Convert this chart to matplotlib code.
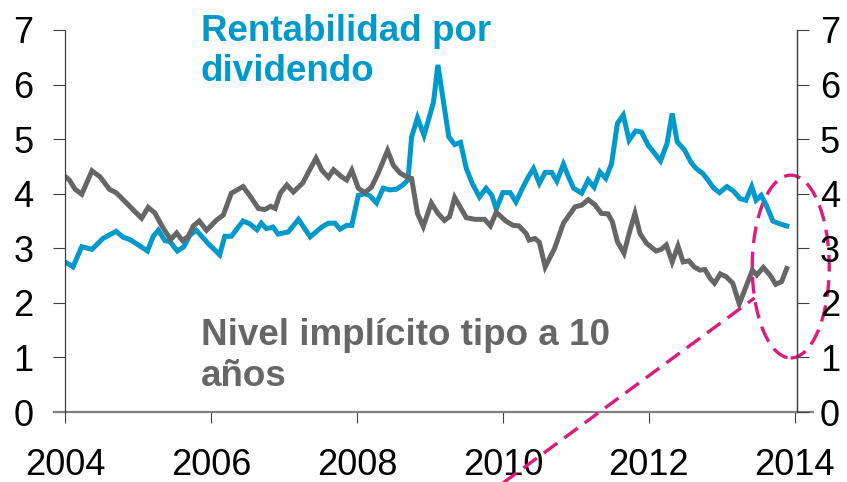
import matplotlib.pyplot as plt
from matplotlib.lines import Line2D
from matplotlib.patches import Ellipse

plt.rcParams['font.family'] = ['Liberation Sans', 'DejaVu Sans']

# Rentabilidad por dividendo (decimal year, %)
div_years = [2004.00, 2004.11, 2004.23, 2004.37, 2004.52, 2004.70, 2004.80, 2004.89,
             2005.03, 2005.13, 2005.21, 2005.28, 2005.37, 2005.44, 2005.54, 2005.63,
             2005.71, 2005.80, 2005.96, 2006.12, 2006.19, 2006.28, 2006.44, 2006.53,
             2006.63, 2006.69, 2006.76, 2006.85, 2006.92, 2007.06, 2007.20, 2007.36,
             2007.52, 2007.61, 2007.70, 2007.77, 2007.86, 2007.93, 2008.02, 2008.11,
             2008.18, 2008.27, 2008.36, 2008.45, 2008.54, 2008.63, 2008.70, 2008.75,
             2008.83, 2008.92, 2009.00, 2009.05, 2009.11, 2009.18, 2009.26, 2009.34,
             2009.42, 2009.50, 2009.58, 2009.68, 2009.77, 2009.85, 2009.91, 2010.00,
             2010.10, 2010.18, 2010.28, 2010.35, 2010.42, 2010.50, 2010.58, 2010.67,
             2010.74, 2010.83, 2010.89, 2010.97, 2011.08, 2011.17, 2011.25, 2011.33,
             2011.41, 2011.49, 2011.57, 2011.65, 2011.73, 2011.82, 2011.90, 2011.99,
             2012.08, 2012.16, 2012.25, 2012.32, 2012.39, 2012.49, 2012.58, 2012.65,
             2012.74, 2012.81, 2012.89, 2012.97, 2013.07, 2013.16, 2013.25, 2013.33,
             2013.41, 2013.47, 2013.54, 2013.61, 2013.70, 2013.79, 2013.89]
div_values = [2.75, 2.66, 3.03, 2.98, 3.18, 3.31, 3.20, 3.16,
              3.04, 2.95, 3.22, 3.33, 3.14, 3.12, 2.95, 3.03,
              3.24, 3.33, 3.09, 2.88, 3.22, 3.22, 3.50, 3.45,
              3.34, 3.46, 3.36, 3.39, 3.26, 3.30, 3.53, 3.21,
              3.39, 3.46, 3.46, 3.35, 3.42, 3.42, 3.97, 4.00,
              3.96, 3.83, 4.10, 4.07, 4.08, 4.16, 4.25, 5.04,
              5.39, 5.07, 5.44, 5.68, 6.36, 5.74, 5.04, 4.90,
              4.94, 4.46, 4.19, 3.94, 4.10, 3.97, 3.72, 4.02,
              4.02, 3.85, 4.13, 4.31, 4.46, 4.19, 4.39, 4.39,
              4.23, 4.54, 4.34, 4.10, 4.01, 4.25, 4.12, 4.40,
              4.28, 4.55, 5.29, 5.44, 4.98, 5.15, 5.13, 4.89,
              4.74, 4.60, 4.92, 5.47, 4.95, 4.80, 4.57, 4.46,
              4.37, 4.25, 4.10, 4.02, 4.13, 4.05, 3.91, 3.88,
              4.13, 3.88, 3.97, 3.79, 3.50, 3.45, 3.41]

# Nivel implicito tipo a 10 anos (decimal year, %)
bond_years = [2004.00, 2004.06, 2004.14, 2004.23, 2004.37, 2004.48, 2004.61, 2004.70,
              2004.85, 2004.96, 2005.05, 2005.14, 2005.23, 2005.35, 2005.45, 2005.53,
              2005.61, 2005.69, 2005.76, 2005.84, 2005.94, 2006.08, 2006.17, 2006.28,
              2006.44, 2006.53, 2006.65, 2006.74, 2006.82, 2006.88, 2006.95, 2007.04,
              2007.13, 2007.26, 2007.35, 2007.44, 2007.52, 2007.61, 2007.68, 2007.79,
              2007.86, 2007.93, 2008.02, 2008.11, 2008.20, 2008.29, 2008.42, 2008.50,
              2008.59, 2008.68, 2008.75, 2008.83, 2008.91, 2009.02, 2009.11, 2009.20,
              2009.27, 2009.34, 2009.50, 2009.62, 2009.75, 2009.83, 2009.91, 2010.04,
              2010.14, 2010.22, 2010.32, 2010.36, 2010.44, 2010.50, 2010.58, 2010.71,
              2010.83, 2010.99, 2011.08, 2011.17, 2011.26, 2011.35, 2011.44, 2011.50,
              2011.57, 2011.66, 2011.73, 2011.81, 2011.88, 2011.97, 2012.10, 2012.17,
              2012.24, 2012.32, 2012.40, 2012.47, 2012.55, 2012.62, 2012.70, 2012.77,
              2012.84, 2012.90, 2012.98, 2013.06, 2013.15, 2013.24, 2013.33, 2013.42,
              2013.48, 2013.57, 2013.66, 2013.74, 2013.82, 2013.89]
bond_values = [4.32, 4.25, 4.08, 3.99, 4.42, 4.31, 4.08, 4.02,
               3.82, 3.67, 3.55, 3.75, 3.65, 3.36, 3.16, 3.28,
               3.14, 3.22, 3.41, 3.50, 3.33, 3.52, 3.61, 4.01,
               4.13, 3.97, 3.73, 3.71, 3.77, 3.73, 4.01, 4.16,
               4.03, 4.20, 4.43, 4.65, 4.43, 4.30, 4.44, 4.31,
               4.25, 4.43, 4.10, 4.02, 4.12, 4.37, 4.79, 4.52,
               4.38, 4.31, 4.28, 3.64, 3.40, 3.83, 3.64, 3.51,
               3.58, 3.93, 3.56, 3.53, 3.53, 3.41, 3.66, 3.50,
               3.42, 3.41, 3.27, 3.15, 3.18, 3.11, 2.66, 3.00,
               3.46, 3.76, 3.79, 3.89, 3.80, 3.64, 3.63, 3.49,
               3.12, 2.91, 3.27, 3.64, 3.27, 3.09, 2.95, 2.98,
               3.06, 2.75, 3.04, 2.75, 2.77, 2.66, 2.60, 2.61,
               2.45, 2.36, 2.53, 2.48, 2.36, 1.98, 2.29, 2.60,
               2.51, 2.65, 2.51, 2.34, 2.39, 2.63]

x_ticks = [2004, 2006, 2008, 2010, 2012, 2014]
y_ticks = [0, 1, 2, 3, 4, 5, 6, 7]

BLUE = "#0099cc"
GREY = "#666666"
PINK = "#e0197d"
AXIS = "#404040"

fig = plt.figure(figsize=(8.47, 4.82), dpi=100)
ax = fig.add_axes([0.0767, 0.1452, 0.8642, 0.7926])

ax.plot(div_years, div_values, color=BLUE, lw=3.6, solid_joinstyle="miter")
ax.plot(bond_years, bond_values, color=GREY, lw=3.6, solid_joinstyle="miter")

ax.set_xlim(2004, 2014.03)
ax.set_ylim(0, 7)
ax.set_xticks(x_ticks)
ax.set_yticks(y_ticks)
ax.tick_params(axis="x", direction="out", length=8, width=0.8, color=AXIS,
               labelsize=26, pad=18)
ax.tick_params(axis="y", direction="out", length=8.5, width=0.8, color=AXIS,
               labelsize=26, pad=14)

for side in ["top", "bottom"]:
    ax.spines[side].set_visible(False)
for side in ["left", "right"]:
    ax.spines[side].set_color(AXIS)
    ax.spines[side].set_linewidth(0.9)

# long horizontal base line running past both spines
ax.add_line(Line2D([-0.015, 1.022], [0, 0], transform=ax.transAxes,
                   color="#808080", lw=1.6, clip_on=False))

ax2 = ax.twinx()
ax2.set_ylim(0, 7)
ax2.set_yticks(y_ticks)
ax2.tick_params(axis="y", direction="out", length=8.5, width=0.8, color=AXIS,
                labelsize=26, pad=8)
for side in ["top", "bottom", "left"]:
    ax2.spines[side].set_visible(False)
ax2.spines["right"].set_color(AXIS)
ax2.spines["right"].set_linewidth(0.9)

fig.text(0.237, 0.971, "Rentabilidad por\ndividendo", color=BLUE, fontsize=26.5,
         fontweight="bold", ha="left", va="top")
fig.text(0.237, 0.340, "Nivel implícito tipo a 10\naños", color=GREY, fontsize=26.5,
         fontweight="bold", ha="left", va="top")

# dashed highlight
ax.add_patch(Ellipse((2013.945, 2.665), 1.055, 3.35, fill=False, ec=PINK, lw=2.4,
                     ls=(0, (5, 2.6)), clip_on=False))
ax.add_line(Line2D([2009.80, 2013.45], [-1.5, 2.09], color=PINK, lw=2.4,
                   ls=(0, (5, 2.6)), clip_on=False))

fig.savefig("out.png", dpi=100)
